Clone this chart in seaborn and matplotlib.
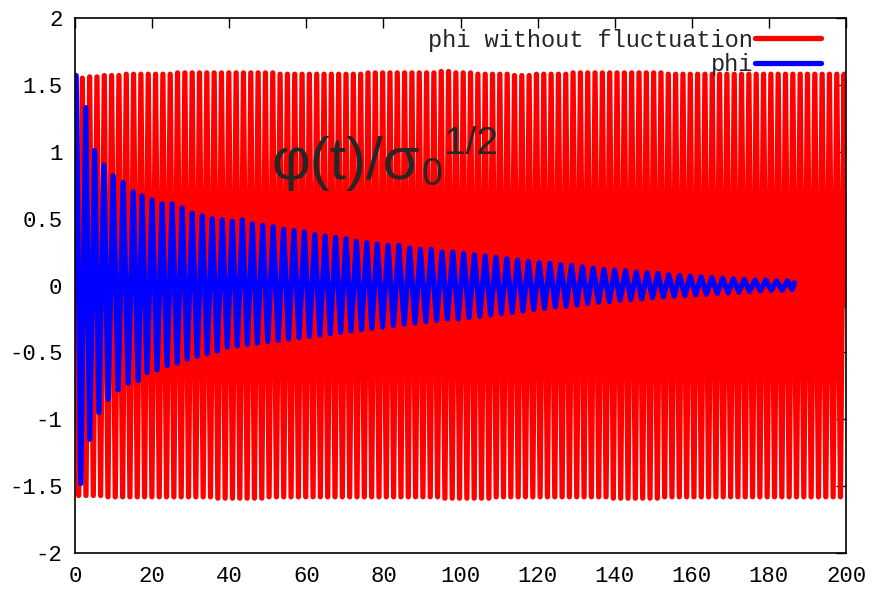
import pandas as pd
import matplotlib
matplotlib.use("Agg")
import matplotlib.pyplot as plt
import seaborn as sns

# red curve: phi without fluctuation (times and values of its extrema)
red_t_max = [0.0, 1.9, 3.8, 5.7, 7.6, 9.5, 11.4, 13.3, 15.2, 17.1,
             19.0, 20.9, 22.8, 24.7, 26.6, 28.5, 30.4, 32.3, 34.2, 36.1,
             38.0, 39.9, 41.8, 43.7, 45.6, 47.5, 49.4, 51.3, 53.2, 55.1,
             57.0, 58.9, 60.8, 62.7, 64.6, 66.5, 68.4, 70.3, 72.2, 74.1,
             76.0, 77.9, 79.8, 81.7, 83.6, 85.5, 87.4, 89.3, 91.2, 93.1,
             95.0, 96.9, 98.8, 100.7, 102.6, 104.5, 106.4, 108.3, 110.2, 112.1,
             114.0, 115.9, 117.8, 119.7, 121.6, 123.5, 125.4, 127.3, 129.2, 131.1,
             133.0, 134.9, 136.8, 138.7, 140.6, 142.5, 144.4, 146.3, 148.2, 150.1,
             152.0, 153.9, 155.8, 157.7, 159.6, 161.5, 163.4, 165.3, 167.2, 169.1,
             171.0, 172.9, 174.8, 176.7, 178.6, 180.5, 182.4, 184.3, 186.2, 188.1,
             190.0, 191.9, 193.8, 195.7, 197.6, 199.5]
red_max = [1.55, 1.55, 1.56, 1.56, 1.57, 1.57, 1.57, 1.58, 1.58, 1.58,
           1.58, 1.58, 1.58, 1.58, 1.59, 1.59, 1.59, 1.59, 1.59, 1.59,
           1.59, 1.59, 1.59, 1.59, 1.59, 1.59, 1.59, 1.59, 1.58, 1.58,
           1.58, 1.58, 1.58, 1.58, 1.58, 1.58, 1.58, 1.58, 1.58, 1.58,
           1.59, 1.59, 1.59, 1.59, 1.59, 1.59, 1.59, 1.59, 1.59, 1.59,
           1.60, 1.60, 1.59, 1.59, 1.59, 1.58, 1.58, 1.58, 1.58, 1.58,
           1.57, 1.57, 1.57, 1.58, 1.58, 1.58, 1.58, 1.58, 1.59, 1.59,
           1.59, 1.59, 1.59, 1.59, 1.59, 1.59, 1.59, 1.59, 1.59, 1.59,
           1.59, 1.58, 1.58, 1.58, 1.58, 1.58, 1.58, 1.58, 1.58, 1.58,
           1.58, 1.58, 1.58, 1.58, 1.58, 1.58, 1.58, 1.58, 1.58, 1.58,
           1.58, 1.58, 1.58, 1.58, 1.58, 1.58]
red_t_min = [0.95, 2.85, 4.75, 6.65, 8.55, 10.45, 12.35, 14.25, 16.15, 18.05,
             19.95, 21.85, 23.75, 25.65, 27.55, 29.45, 31.35, 33.25, 35.15, 37.05,
             38.95, 40.85, 42.75, 44.65, 46.55, 48.45, 50.35, 52.25, 54.15, 56.05,
             57.95, 59.85, 61.75, 63.65, 65.55, 67.45, 69.35, 71.25, 73.15, 75.05,
             76.95, 78.85, 80.75, 82.65, 84.55, 86.45, 88.35, 90.25, 92.15, 94.05,
             95.95, 97.85, 99.75, 101.65, 103.55, 105.45, 107.35, 109.25, 111.15, 113.05,
             114.95, 116.85, 118.75, 120.65, 122.55, 124.45, 126.35, 128.25, 130.15, 132.05,
             133.95, 135.85, 137.75, 139.65, 141.55, 143.45, 145.35, 147.25, 149.15, 151.05,
             152.95, 154.85, 156.75, 158.65, 160.55, 162.45, 164.35, 166.25, 168.15, 170.05,
             171.95, 173.85, 175.75, 177.65, 179.55, 181.45, 183.35, 185.25, 187.15, 189.05,
             190.95, 192.85, 194.75, 196.65, 198.55]
red_min = [-1.57, -1.57, -1.57, -1.57, -1.58, -1.58, -1.58, -1.58, -1.58, -1.58,
           -1.58, -1.58, -1.58, -1.58, -1.58, -1.58, -1.58, -1.58, -1.58, -1.59,
           -1.59, -1.59, -1.59, -1.59, -1.59, -1.59, -1.58, -1.58, -1.58, -1.58,
           -1.58, -1.58, -1.58, -1.58, -1.58, -1.58, -1.58, -1.58, -1.58, -1.58,
           -1.58, -1.58, -1.58, -1.58, -1.58, -1.58, -1.58, -1.58, -1.58, -1.58,
           -1.59, -1.59, -1.59, -1.59, -1.59, -1.59, -1.59, -1.58, -1.58, -1.58,
           -1.58, -1.58, -1.58, -1.58, -1.58, -1.58, -1.58, -1.58, -1.58, -1.58,
           -1.58, -1.58, -1.58, -1.59, -1.59, -1.59, -1.59, -1.59, -1.59, -1.59,
           -1.58, -1.58, -1.58, -1.58, -1.58, -1.58, -1.58, -1.58, -1.58, -1.58,
           -1.58, -1.58, -1.58, -1.58, -1.58, -1.58, -1.58, -1.58, -1.58, -1.58,
           -1.58, -1.58, -1.58, -1.58, -1.58]
red_t_end = [200.0]
red_end = [-0.15]

# blue curve: phi (damped), extrema
blue_t_max = [0.3, 2.8, 5.1, 7.5, 9.9, 12.5, 15.1, 17.4, 20.0, 22.6,
              25.2, 27.8, 30.4, 33.0, 35.6, 38.2, 40.8, 43.4, 46.0, 48.7,
              51.4, 54.1, 56.8, 59.5, 62.2, 64.9, 67.6, 70.3, 73.0, 75.7,
              78.4, 81.2, 84.0, 86.8, 89.6, 92.4, 95.2, 98.0, 100.8, 103.6,
              106.4, 109.2, 112.0, 114.8, 117.6, 120.4, 123.2, 126.0, 128.8, 131.6,
              134.4, 137.2, 140.0, 142.8, 145.6, 148.4, 151.2, 154.0, 156.8, 159.6,
              162.4, 165.2, 168.0, 170.8, 173.6, 176.4, 179.2, 182.0, 184.8]
blue_max = [1.57, 1.33, 1.01, 0.90, 0.82, 0.77, 0.70, 0.67, 0.64, 0.61,
            0.61, 0.58, 0.54, 0.52, 0.50, 0.49, 0.48, 0.49, 0.46, 0.45,
            0.44, 0.42, 0.41, 0.40, 0.38, 0.37, 0.36, 0.35, 0.33, 0.32,
            0.31, 0.30, 0.30, 0.28, 0.27, 0.27, 0.25, 0.25, 0.24, 0.23,
            0.22, 0.21, 0.20, 0.19, 0.18, 0.17, 0.165, 0.155, 0.15, 0.14,
            0.13, 0.12, 0.115, 0.11, 0.10, 0.095, 0.09, 0.08, 0.075, 0.07,
            0.065, 0.06, 0.055, 0.05, 0.045, 0.04, 0.04, 0.035, 0.035]
blue_t_min = [1.5, 3.8, 6.2, 8.6, 11.2, 13.8, 16.4, 18.7, 21.3, 23.9,
              26.5, 29.1, 31.7, 34.3, 36.9, 39.5, 42.1, 44.7, 47.3, 50.0,
              52.7, 55.4, 58.1, 60.8, 63.5, 66.2, 68.9, 71.6, 74.3, 77.0,
              79.8, 82.6, 85.4, 88.2, 91.0, 93.8, 96.6, 99.4, 102.2, 105.0,
              107.8, 110.6, 113.4, 116.2, 119.0, 121.8, 124.6, 127.4, 130.2, 133.0,
              135.8, 138.6, 141.4, 144.2, 147.0, 149.8, 152.6, 155.4, 158.2, 161.0,
              163.8, 166.6, 169.4, 172.2, 175.0, 177.8, 180.6, 183.4, 186.0]
blue_min = [-1.48, -1.15, -0.95, -0.85, -0.78, -0.73, -0.71, -0.65, -0.63, -0.60,
            -0.58, -0.55, -0.53, -0.51, -0.49, -0.46, -0.45, -0.44, -0.43, -0.42,
            -0.41, -0.40, -0.39, -0.38, -0.37, -0.36, -0.35, -0.34, -0.33, -0.32,
            -0.31, -0.30, -0.29, -0.28, -0.27, -0.26, -0.25, -0.25, -0.24, -0.23,
            -0.22, -0.21, -0.20, -0.19, -0.18, -0.17, -0.16, -0.155, -0.145, -0.135,
            -0.125, -0.12, -0.11, -0.105, -0.10, -0.09, -0.085, -0.08, -0.075, -0.07,
            -0.065, -0.06, -0.055, -0.05, -0.045, -0.04, -0.035, -0.035, -0.03]
blue_t_end = [186.6]
blue_end = [0.02]

x_ticks = [0, 20, 40, 60, 80, 100, 120, 140, 160, 180, 200]
y_ticks = [-2, -1.5, -1, -0.5, 0, 0.5, 1, 1.5, 2]
y_tick_labels = ["-2", "-1.5", "-1", "-0.5", "0", "0.5", "1", "1.5", "2"]

label_red = "phi without fluctuation"
label_blue = "phi"


def curve(t_max, v_max, t_min, v_min, t_end, v_end):
    df = pd.DataFrame({"t": t_max + t_min + t_end, "phi": v_max + v_min + v_end})
    return df.sort_values("t").reset_index(drop=True)


red = curve(red_t_max, red_max, red_t_min, red_min, red_t_end, red_end)
blue = curve(blue_t_max, blue_max, blue_t_min, blue_min, blue_t_end, blue_end)

sns.set_style("white")
plt.rcParams["font.family"] = ["Liberation Mono", "DejaVu Sans Mono"]

fig = plt.figure(figsize=(8.75, 5.97), dpi=100)
ax = fig.add_axes([0.0857, 0.0737, 0.8812, 0.8961])

sns.lineplot(data=red, x="t", y="phi", color="#ff0000", lw=3.8,
             estimator=None, ax=ax, label=label_red)
sns.lineplot(data=blue, x="t", y="phi", color="#0000ff", lw=3.8,
             estimator=None, ax=ax, label=label_blue)

ax.set_xlim(0, 200)
ax.set_ylim(-2, 2)
ax.set_xticks(x_ticks)
ax.set_yticks(y_ticks)
ax.set_yticklabels(y_tick_labels)
ax.set_xlabel("")
ax.set_ylabel("")
ax.tick_params(direction="in", top=True, right=True, length=7, width=1,
               labelsize=16, pad=9, colors="black")
for s in ax.spines.values():
    s.set_color("black")
    s.set_linewidth(1.2)

# phi(t)/sigma_0^(1/2) written in three pieces (sans serif like the original)
sans = ["Liberation Sans", "DejaVu Sans"]
t1 = ax.text(51, 0.80, "φ(t)/σ", fontsize=43, family=sans,
             va="baseline", ha="left")
t2 = ax.annotate("0", xy=(1, 0), xycoords=t1, xytext=(1, -2),
                 textcoords="offset points", fontsize=27, family=sans,
                 va="bottom", ha="left")
t3 = ax.annotate("1/2", xy=(1, 1), xycoords=(t2, t1), xytext=(1, 7),
                 textcoords="offset points", fontsize=28, family=sans,
                 va="top", ha="left")

ax.legend(loc="upper right", bbox_to_anchor=(0.968, 0.98), frameon=False,
          markerfirst=False, fontsize=17, handlelength=2.8, handletextpad=0.1,
          labelspacing=0.05, borderpad=0, borderaxespad=0)

fig.savefig("out.png", dpi=100)
